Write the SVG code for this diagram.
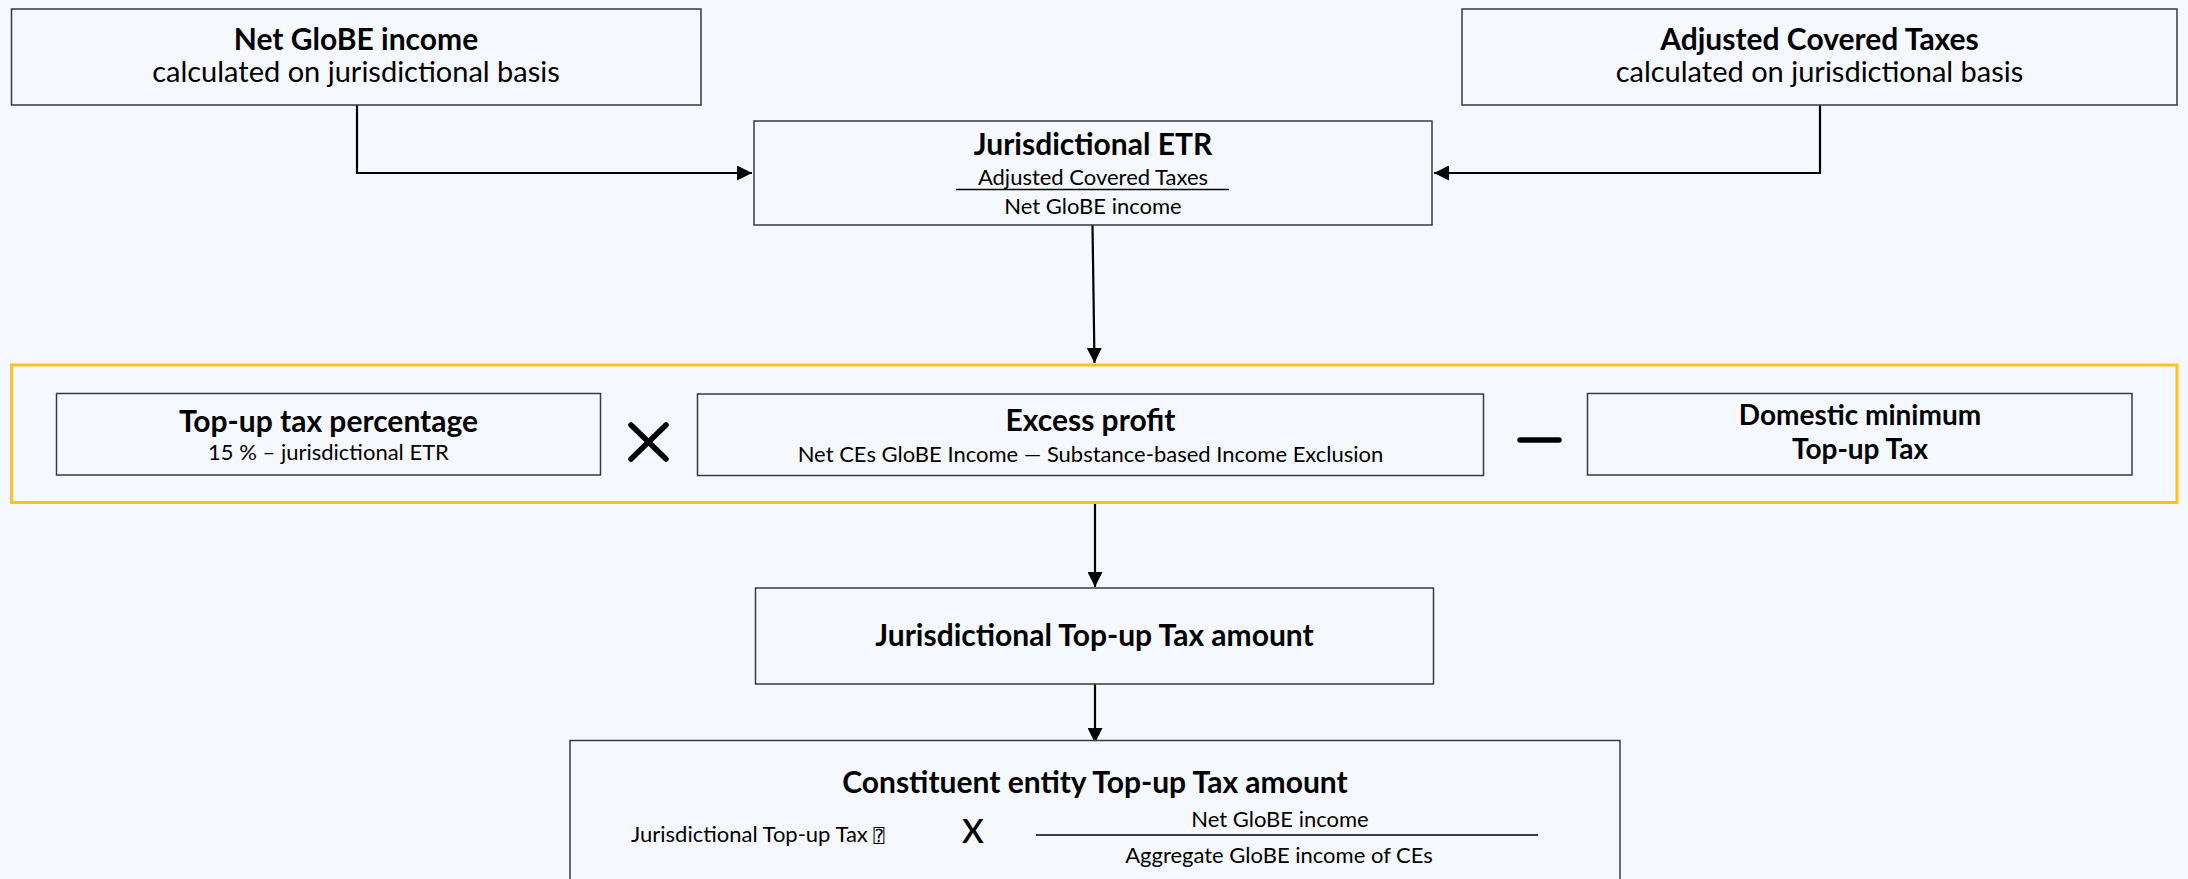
<svg xmlns="http://www.w3.org/2000/svg" width="2188" height="879" viewBox="0 0 2188 879">
  <style>
    .box { fill: #F5F8FE; stroke: #3A3A3A; stroke-width: 1.5; }
    .t { font-family: Lato, "Open Sans", "Liberation Sans", sans-serif; fill: #000; text-anchor: middle; }
    .title { font-size: 30px; font-weight: bold; }
    .sub { font-size: 29px; }
    .small { font-size: 22px; }
    .conn { fill: none; stroke: #000; stroke-width: 2.2; }
    .op { fill: none; stroke: #000; stroke-width: 5.5; stroke-linecap: round; }
  </style>
  <defs>
    <marker id="arr" viewBox="0 0 10 10" refX="10" refY="5" markerWidth="15" markerHeight="15" markerUnits="userSpaceOnUse" orient="auto">
      <path d="M0,0 L10,5 L0,10 Z" fill="#000"/>
    </marker>
  </defs>
  <rect width="2188" height="879" fill="#F5F8FE"/>

  <g id="connectors">
    <path class="conn" d="M357,105 V173 H752" marker-end="url(#arr)"/>
    <path class="conn" d="M1820,105 V173 H1434" marker-end="url(#arr)"/>
    <path class="conn" d="M1092.5,225 L1094.5,363" marker-end="url(#arr)"/>
    <path class="conn" d="M1095,503 V587" marker-end="url(#arr)"/>
    <path class="conn" d="M1095,684 V743" marker-end="url(#arr)"/>
  </g>

  <g id="net-globe-income">
    <rect class="box" x="11.5" y="9" width="689.5" height="96"/>
    <text class="t title" x="356" y="50">Net GloBE income</text>
    <text class="t sub" x="356" y="82">calculated on jurisdictional basis</text>
  </g>

  <g id="adjusted-covered-taxes">
    <rect class="box" x="1462" y="9" width="715" height="96"/>
    <text class="t title" x="1819.5" y="50">Adjusted Covered Taxes</text>
    <text class="t sub" x="1819.5" y="82">calculated on jurisdictional basis</text>
  </g>

  <g id="jurisdictional-etr">
    <rect class="box" x="754" y="121" width="678" height="104"/>
    <text class="t title" x="1093" y="155">Jurisdictional ETR</text>
    <text class="t small" x="1093" y="185">Adjusted Covered Taxes</text>
    <line x1="956" y1="189.5" x2="1229" y2="189.5" stroke="#000" stroke-width="1.5"/>
    <text class="t small" x="1093" y="214">Net GloBE income</text>
  </g>

  <g id="top-up-formula">
    <rect x="11.5" y="365" width="2165.5" height="137.5" fill="none" stroke="#FFC222" stroke-width="3"/>
  </g>

  <g id="top-up-tax-percentage">
    <rect class="box" x="56.5" y="393.5" width="544" height="81.5"/>
    <text class="t title" x="328.5" y="432">Top-up tax percentage</text>
    <text class="t small" x="328.5" y="460">15 % – jurisdictional ETR</text>
  </g>

  <g id="multiply-sign">
    <path class="op" d="M631,425 L666,459 M666,425 L631,459"/>
  </g>

  <g id="excess-profit">
    <rect class="box" x="697.5" y="394" width="786" height="81.5"/>
    <text class="t title" x="1090.5" y="431">Excess profit</text>
    <text class="t small" x="1090.5" y="462">Net CEs GloBE Income — Substance-based Income Exclusion</text>
  </g>

  <g id="minus-sign">
    <path class="op" d="M1520,440 L1559,440"/>
  </g>

  <g id="domestic-minimum-top-up-tax">
    <rect class="box" x="1587.5" y="393.5" width="544.5" height="81.5"/>
    <text class="t title" x="1860" y="425" style="font-size:28px">Domestic minimum</text>
    <text class="t title" x="1860" y="459" style="font-size:28px">Top-up Tax</text>
  </g>

  <g id="jurisdictional-top-up-tax-amount">
    <rect class="box" x="755.5" y="588" width="678" height="96"/>
    <text class="t title" x="1094.5" y="646">Jurisdictional Top-up Tax amount</text>
  </g>

  <g id="constituent-entity-top-up-tax-amount">
    <rect class="box" x="570" y="740.5" width="1050" height="160"/>
    <text class="t title" x="1095" y="793">Constituent entity Top-up Tax amount</text>
    <text class="t small" x="631" y="842" style="text-anchor:start">Jurisdictional Top-up Tax <tspan font-family="DejaVu Sans Mono, DejaVu Sans, monospace" font-size="18">⍰</tspan></text>
    <text class="t" x="973" y="843" font-size="33" style="font-weight:600">X</text>
    <text class="t small" x="1280" y="827">Net GloBE income</text>
    <line x1="1036" y1="835" x2="1538" y2="835" stroke="#000" stroke-width="1.5"/>
    <text class="t small" x="1279" y="863">Aggregate GloBE income of CEs</text>
  </g>
</svg>
